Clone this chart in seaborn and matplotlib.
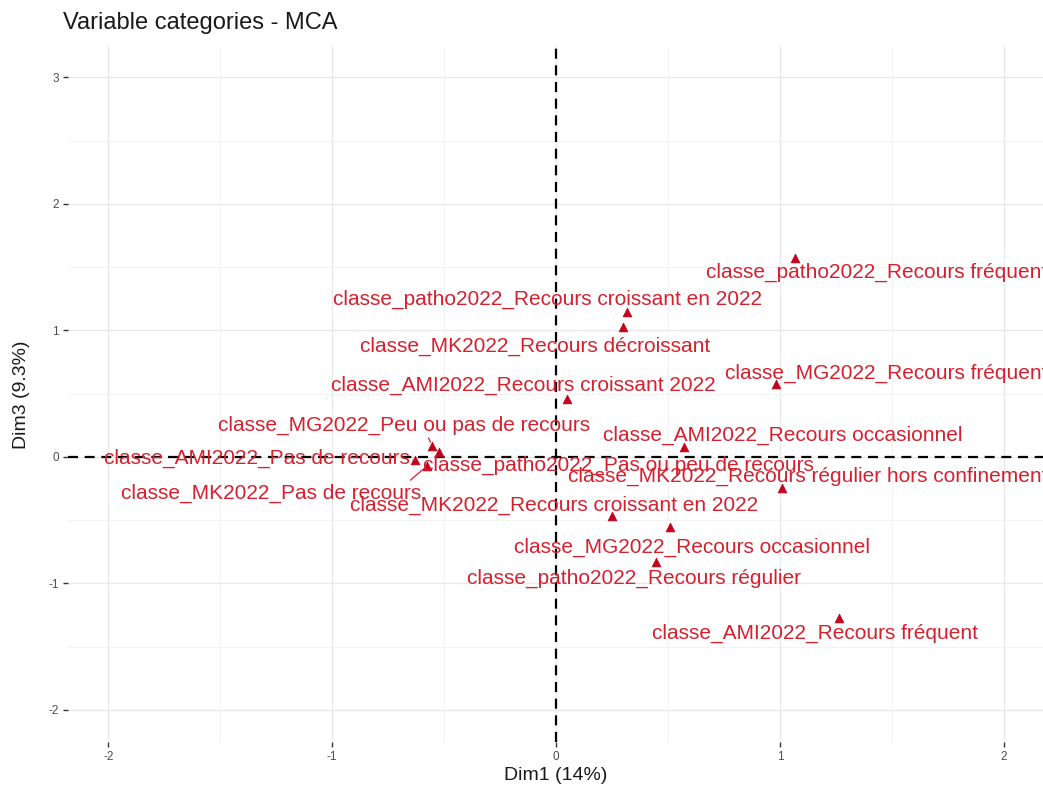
import matplotlib
matplotlib.use("Agg")
import matplotlib.pyplot as plt
import numpy as np
import pandas as pd
import seaborn as sns

# MCA variable categories: coordinates on Dim1 / Dim3
categories = [
    "classe_patho2022_Recours fréquent",
    "classe_patho2022_Recours croissant en 2022",
    "classe_MK2022_Recours décroissant",
    "classe_AMI2022_Recours croissant 2022",
    "classe_MG2022_Recours fréquent",
    "classe_MG2022_Peu ou pas de recours",
    "classe_AMI2022_Pas de recours",
    "classe_MK2022_Pas de recours",
    "classe_patho2022_Pas ou peu de recours",
    "classe_AMI2022_Recours occasionnel",
    "classe_MK2022_Recours régulier hors confinement",
    "classe_MK2022_Recours croissant en 2022",
    "classe_MG2022_Recours occasionnel",
    "classe_patho2022_Recours régulier",
    "classe_AMI2022_Recours fréquent",
]
dim1 = [1.067, 0.317, 0.300, 0.050, 0.980, -0.554, -0.630, -0.576, -0.522,
        0.571, 1.010, 0.250, 0.510, 0.446, 1.262]
dim3 = [1.573, 1.146, 1.030, 0.460, 0.580, 0.087, -0.024, -0.071, 0.040,
        0.080, -0.245, -0.470, -0.553, -0.830, -1.272]

# repelled label centres (data units) and where a leader segment leaves the label
label_x = [1.433, -0.040, -0.092, -0.147, 1.475, -0.679, -1.337, -1.272, 0.279,
           1.013, 1.125, -0.011, 0.605, 0.348, 1.156]
label_y = [1.462, 1.249, 0.877, 0.569, 0.664, 0.253, -0.008, -0.285, -0.063,
           0.174, -0.150, -0.379, -0.711, -0.957, -1.391]
segment_from = {
    "classe_MG2022_Peu ou pas de recours": (0.55, 0.5),
    "classe_AMI2022_Pas de recours": (1.0, 0.4),
    "classe_MK2022_Pas de recours": (0.95, 1.0),
}

x_ticks = [-2, -1, 0, 1, 2]
y_ticks = [-2, -1, 0, 1, 2, 3]

df = pd.DataFrame({"category": categories, "Dim1": dim1, "Dim3": dim3})

sns.set_theme(style="white")
plt.rcParams["font.family"] = ["Liberation Sans", "DejaVu Sans"]

W, H = 1043, 789
fig = plt.figure(figsize=(W / 100, H / 100), dpi=100)
ax = fig.add_axes([68 / W, (H - 742) / H, (W - 68) / W, (742 - 47) / H])

text_red = "#D6202E"
mark_red = "#C4001C"

ax.set_xlim(-2.18, 2.174)
ax.set_ylim(-2.253, 3.24)

# grid: major + minor
for v in np.arange(-2.5, 3.5, 0.5):
    major = float(v).is_integer()
    ax.axhline(v, color="#E9E9E9" if major else "#F3F3F3",
               lw=1.0 if major else 0.7, zorder=0)
for v in np.arange(-2.0, 2.5, 0.5):
    major = float(v).is_integer()
    ax.axvline(v, color="#E9E9E9" if major else "#F3F3F3",
               lw=1.0 if major else 0.7, zorder=0)

ax.axhline(0, color="black", lw=1.6, ls=(0, (4.5, 3)), zorder=1)
ax.axvline(0, color="black", lw=1.6, ls=(0, (4.5, 3)), zorder=1)

sns.scatterplot(data=df, x="Dim1", y="Dim3", marker="^", s=40,
                color=mark_red, edgecolor=mark_red, linewidth=0.5,
                ax=ax, zorder=3, legend=False)

for cat, px, py, lx, ly in zip(categories, dim1, dim3, label_x, label_y):
    props = None
    if cat in segment_from:
        props = dict(arrowstyle="-", color=text_red, lw=0.9,
                     shrinkA=0, shrinkB=3, relpos=segment_from[cat])
    ax.annotate(cat, xy=(px, py), xytext=(lx, ly), textcoords="data",
                ha="center", va="center", fontsize=15, color=text_red,
                arrowprops=props, zorder=4, annotation_clip=False)

for s in ax.spines.values():
    s.set_visible(False)

ax.set_xticks(x_ticks)
ax.set_yticks(y_ticks)
ax.set_xticklabels([str(t) for t in x_ticks])
ax.set_yticklabels([str(t) for t in y_ticks])
ax.tick_params(axis="both", which="both", length=3.5, width=1.0,
               color="#333333", labelcolor="#4D4D4D", labelsize=8.5,
               pad=3, direction="out", bottom=True, left=True)

ax.set_xlabel("Dim1 (14%)", fontsize=14, color="#1A1A1A", labelpad=3)
ax.set_ylabel("Dim3 (9.3%)", fontsize=14, color="#1A1A1A", labelpad=13)
ax.grid(False)

fig.text(63 / W, 1 - 23 / H, "Variable categories - MCA", fontsize=17,
         color="#1A1A1A", ha="left", va="center")

fig.savefig("out.png", dpi=100)
